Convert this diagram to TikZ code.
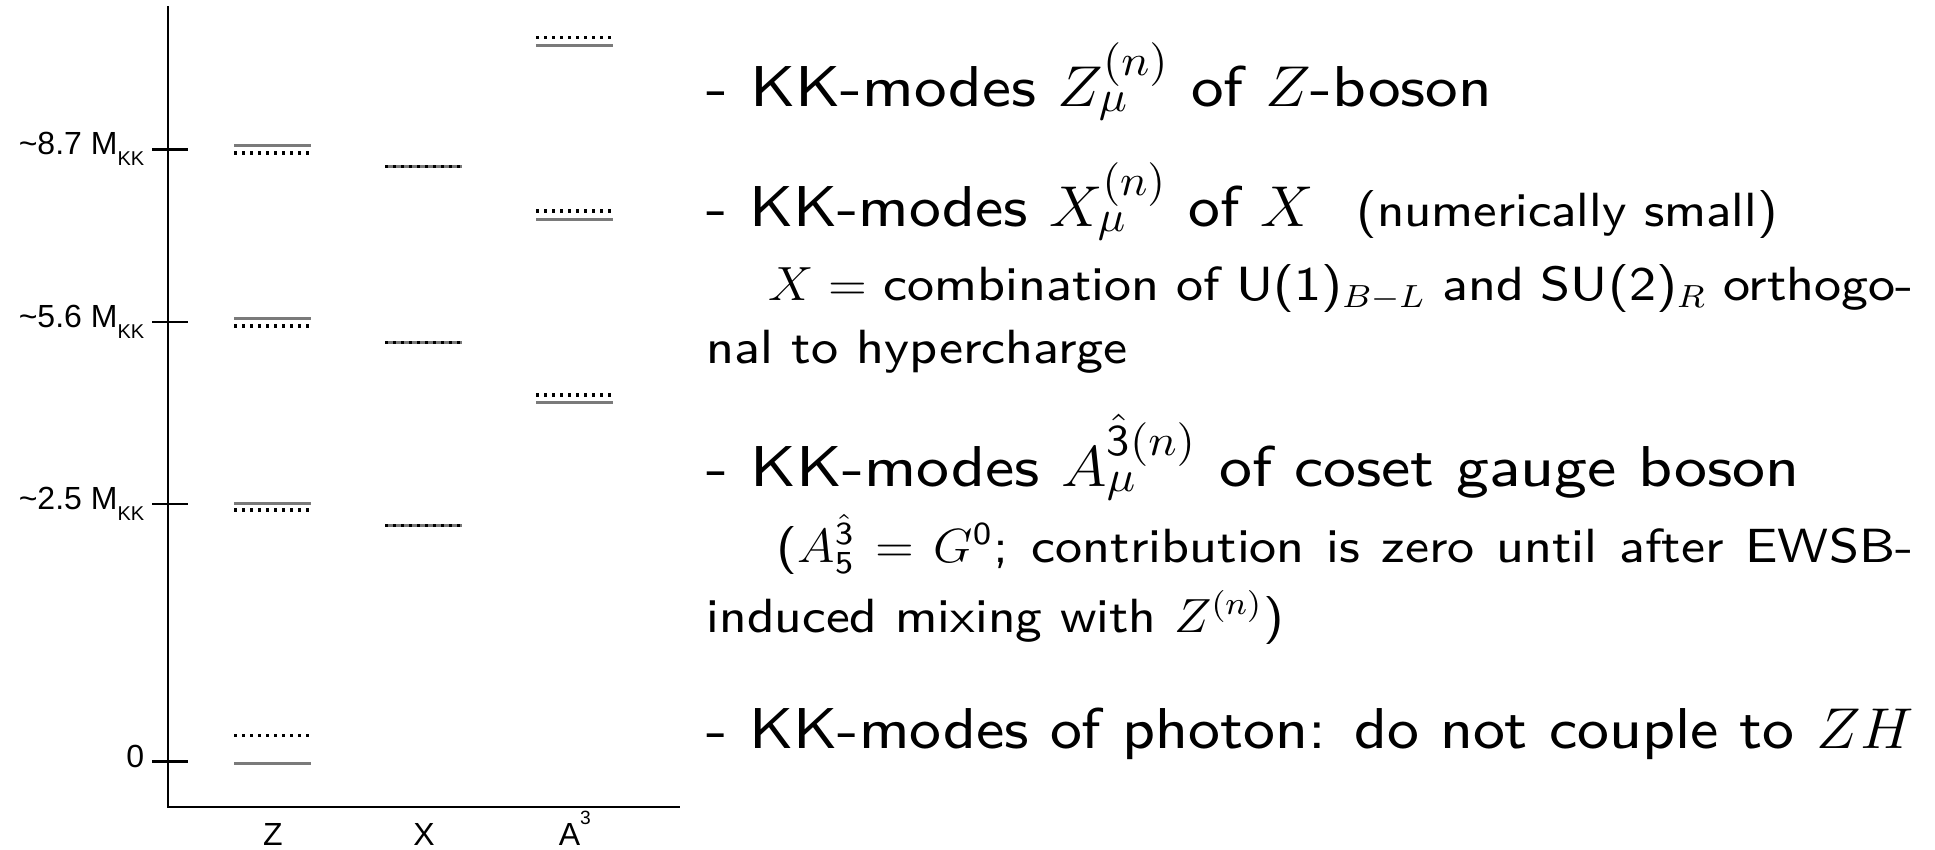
\documentclass[tikz,border=0pt]{standalone}
\usepackage{fontspec}
\usepackage{graphicx}
\newfontfamily\arialfont{Liberation Sans}
\newfontfamily\wsans{lmsans8-regular.otf}
\DeclareMathSizes{14.4}{14.4}{11}{8}
\newsavebox\linebox
\newlength\linewd
% #1 target width in pt, #2 content: stretched horizontally to that width
\newcommand{\fitto}[2]{\sbox\linebox{#2}\setlength\linewd{\wd\linebox}%
  \pgfmathsetmacro\fitsx{#1/\linewd}\scalebox{\fitsx}[1]{\usebox\linebox}}
\begin{document}
\begin{tikzpicture}[x=0.25pt,y=-0.25pt]
\tikzset{
  axisline/.style={line width=0.7pt, black},
  solidlvl/.style={line width=0.75pt, black!52},
  dotlvl/.style={line width=0.8pt, black, dash pattern=on 0.75pt off 1.25pt},
  maintext/.style={font=\wsans\fontsize{14.4}{17}\selectfont, anchor=base west, inner sep=0pt},
  subtext/.style={font=\wsans\fontsize{12}{14}\selectfont, anchor=base west, inner sep=0pt},
  ticklabel/.style={font=\arialfont\fontsize{8}{9}\selectfont, anchor=base east, inner sep=0pt},
  collabel/.style={font=\arialfont\fontsize{8}{9}\selectfont, anchor=base, inner sep=0pt},
}
\newcommand{\kksub}{\raisebox{-2.75pt}{\fontsize{5}{6}\selectfont KK}}
\useasboundingbox (0,0) rectangle (1935,849);
% axes
\coordinate (top) at (168,6);
\coordinate (origin) at (168,807);
\coordinate (xend) at (680,807);
\draw[axisline] (top) -- (origin) -- (xend);
% ticks
\foreach \y/\n in {149.3/t87, 322/t56, 504/t25, 761.7/t0}{
  \coordinate (\n l) at (152,\y);
  \coordinate (\n r) at (188,\y);
  \draw[axisline] (\n l) -- (\n r);
}
\node[ticklabel] (lab87) at (145,154) {\textasciitilde 8.7 M\kksub};
\node[ticklabel] (lab56) at (145,327) {\textasciitilde 5.6 M\kksub};
\node[ticklabel] (lab25) at (145,509) {\textasciitilde 2.5 M\kksub};
\node[ticklabel] (lab0) at (145,767) {0};
% Z column
\draw[solidlvl] (234,145.7) -- (311,145.7);
\draw[dotlvl]   (234,153) -- (311,153);
\draw[solidlvl] (234,318.7) -- (311,318.7);
\draw[dotlvl]   (234,326) -- (311,326);
\draw[solidlvl] (234,503) -- (311,503);
\draw[dotlvl]   (234,510) -- (311,510);
\draw[dotlvl]   (234,735.7) -- (311,735.7);
\draw[solidlvl] (234,763.7) -- (311,763.7);
% X column
\foreach \y in {166.7, 342.7, 525.3}{
  \draw[solidlvl] (385,\y) -- (462,\y);
  \draw[dotlvl]   (385,\y) -- (462,\y);
}
% A3 column
\draw[dotlvl]   (536,37.3) -- (613,37.3);
\draw[solidlvl] (536,45.3) -- (613,45.3);
\draw[dotlvl]   (536,211) -- (613,211);
\draw[solidlvl] (536,219) -- (613,219);
\draw[dotlvl]   (536,395) -- (613,395);
\draw[solidlvl] (536,402.7) -- (613,402.7);
% column labels
\node[collabel] (cZ) at (273,845) {Z};
\node[collabel] (cX) at (424,845) {X};
\node[collabel, anchor=base west] (cA) at (558,845) {A\raisebox{5.2pt}{\fontsize{4.8}{5}\selectfont 3}};
% text
\node[maintext] (l1) at (706,106) {\fitto{196.25}{- KK-modes $Z_\mu^{(n)}$ of $Z$-boson}};
\node[maintext] (l2) at (706,226) {\fitto{267.75}{- KK-modes $X_\mu^{(n)}$ of $X$ \ {\fontsize{12}{14}\selectfont(numerically small)}}};
\node[subtext] (l3) at (768,300) {\scalebox{1.06}[1]{\makebox[270pt][s]{$X =$ combination of U(1)$_{B-L}$ and SU(2)$_R$ orthogo-}}};
\node[subtext] (l4) at (706,363) {\fitto{105.25}{nal to hypercharge}};
\node[maintext] (l5) at (706,486) {\fitto{273.25}{- KK-modes $A_\mu^{\hat{\mathsf{3}}(n)}$ of coset gauge boson}};
\node[subtext] (l6) at (776,562) {\scalebox{1.06}[1]{\makebox[268pt][s]{($A_{\mathsf{5}}^{\hat{\mathsf{3}}} = G^{\mathsf{0}}$; contribution is zero until after EWSB-}}};
\node[subtext] (l7) at (706,632) {\fitto{144.25}{induced mixing with $Z^{(n)}$)}};
\node[maintext] (l8) at (706,748) {\fitto{301.75}{- KK-modes of photon: do not couple to $ZH$}};
\end{tikzpicture}
\end{document}
